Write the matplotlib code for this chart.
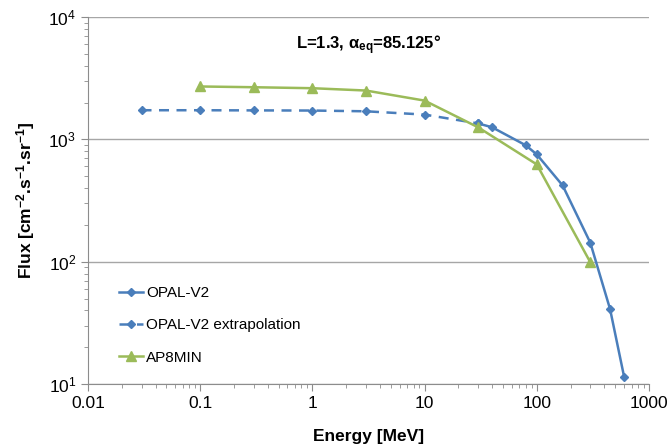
import numpy as np
import matplotlib.pyplot as plt
from matplotlib.ticker import LogLocator, LogFormatterMathtext, NullFormatter, FixedLocator, FixedFormatter

plt.rcParams['font.family'] = ['Liberation Sans', 'DejaVu Sans']
plt.rcParams['mathtext.fontset'] = 'custom'
plt.rcParams['mathtext.rm'] = 'Liberation Sans'
plt.rcParams['mathtext.it'] = 'Liberation Sans'
plt.rcParams['mathtext.bf'] = 'Liberation Sans:bold'

# OPAL-V2 (model range)
opal_energy = [30, 40, 80, 100, 170, 300, 450, 600]
opal_flux = [1350, 1255, 893, 753, 420, 143, 41, 11.5]

# OPAL-V2 extrapolation to low energies
extra_energy = [0.03, 0.1, 0.3, 1, 3, 10, 30]
extra_flux = [1730, 1730, 1725, 1720, 1696, 1594, 1350]

# AP8MIN
ap8_energy = [0.1, 0.3, 1, 3, 10, 30, 100, 300]
ap8_flux = [2706, 2668, 2619, 2507, 2074, 1255, 624, 99]

blue = '#4A7EBB'
green = '#9BBB59'

fig = plt.figure(figsize=(6.7, 4.47), dpi=100)
ax = fig.add_axes([0.1313, 0.1409, 0.8373, 0.821])

ax.plot(opal_energy, opal_flux, color=blue, lw=1.8, marker='D', ms=4.5,
        label='OPAL-V2')
ax.plot(extra_energy, extra_flux, color=blue, lw=1.8, ls=(0, (4, 3)), marker='D',
        ms=4.5, label='OPAL-V2 extrapolation')
ax.plot(ap8_energy, ap8_flux, color=green, lw=1.8, marker='^', ms=6.5,
        label='AP8MIN')

ax.set_xscale('log')
ax.set_yscale('log')
ax.set_xlim(0.01, 1000)
ax.set_ylim(10, 10000)

xt = [0.01, 0.1, 1, 10, 100, 1000]
ax.xaxis.set_major_locator(FixedLocator(xt))
ax.xaxis.set_major_formatter(FixedFormatter(['0.01', '0.1', '1', '10', '100', '1000']))
ax.xaxis.set_minor_locator(LogLocator(base=10, subs=np.arange(2, 10), numticks=20))
ax.xaxis.set_minor_formatter(NullFormatter())
ax.yaxis.set_major_locator(LogLocator(base=10, numticks=10))
ax.yaxis.set_major_formatter(LogFormatterMathtext())
ax.yaxis.set_minor_locator(LogLocator(base=10, subs=np.arange(2, 10), numticks=20))
ax.yaxis.set_minor_formatter(NullFormatter())

ax.grid(axis='y', which='major', color='#a6a6a6', lw=1.0)
ax.set_axisbelow(True)
for s in ['top', 'right']:
    ax.spines[s].set_visible(False)
for s in ['left', 'bottom']:
    ax.spines[s].set_color('#8c8c8c')
ax.tick_params(which='major', length=5, color='#8c8c8c', labelsize=12.5)
ax.tick_params(which='minor', length=3, color='#8c8c8c')

ax.set_xlabel('Energy [MeV]', fontsize=12.5, fontweight='bold', labelpad=13)
ax.set_ylabel(r'Flux [cm$^{\mathbf{-2}}$.s$^{\mathbf{-1}}$.sr$^{\mathbf{-1}}$]',
              fontsize=12.5, fontweight='bold', labelpad=8)

ax.text(0.5, 0.955, r'L=1.3, $\mathbf{\alpha_{eq}}$=85.125°', transform=ax.transAxes,
        ha='center', va='top', fontsize=12, fontweight='bold')

ax.legend(loc='lower left', bbox_to_anchor=(0.03, 0.015), frameon=False,
          fontsize=11, handlelength=1.6, handletextpad=0.2, labelspacing=1.2)

fig.savefig('out.png', dpi=100)
